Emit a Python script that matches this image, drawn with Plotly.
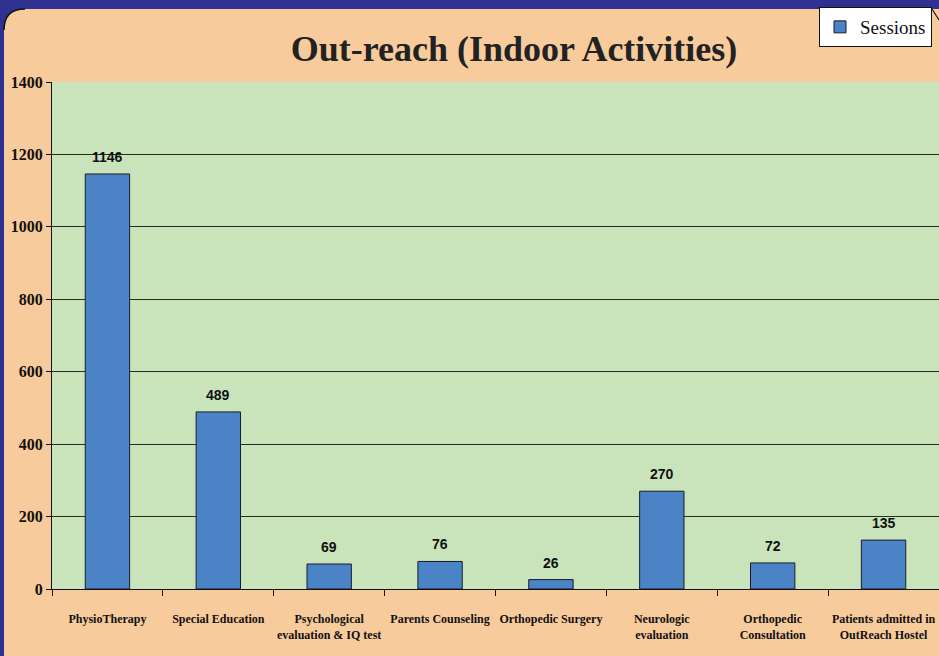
import plotly.graph_objects as go

categories = ["PhysioTherapy", "Special Education", "Psychological<br>evaluation &amp; IQ test",
              "Parents Counseling", "Orthopedic Surgery", "Neurologic<br>evaluation",
              "Orthopedic<br>Consultation", "Patients admitted in<br>OutReach Hostel"]
sessions = [1146, 489, 69, 76, 26, 270, 72, 135]
y_ticks = [0, 200, 400, 600, 800, 1000, 1200, 1400]

W, H = 939, 656
L, R, T, B = 52, 0, 82, 67
PW, PH = W - L - R, H - T - B

def px(x):
    return (x - L) / PW

def py(y):
    return (H - B - y) / PH

BLUE = "#2E3192"
PEACH = "#F8CB9C"
GREEN = "#C9E3BA"

fig = go.Figure()
fig.add_trace(go.Bar(
    x=categories, y=sessions, name="Sessions", width=0.4,
    marker=dict(color="#4A84C6", line=dict(color="#1b1b2b", width=1)),
))

for c, v in zip(categories, sessions):
    fig.add_annotation(x=c, y=v, text=str(v), showarrow=False, yshift=17,
                       font=dict(family="Liberation Sans Narrow, Liberation Sans, Arial",
                                 size=14, color="#111", weight="bold"))

# blue frame with rounded top-left corner of the peach panel
path = (f"M {px(0)},{py(0)} L {px(0)},{py(H)} L {px(4)},{py(H)} L {px(4)},{py(30)} "
        f"Q {px(4)},{py(9)} {px(25)},{py(9)} L {px(W)},{py(9)} L {px(W)},{py(0)} Z")
fig.add_shape(type="path", path=path, xref="paper", yref="paper",
              fillcolor=BLUE, line=dict(width=0), layer="below")
arc = f"M {px(4)},{py(30)} Q {px(4)},{py(9)} {px(25)},{py(9)}"
fig.add_shape(type="path", path=arc, xref="paper", yref="paper",
              line=dict(color="#111", width=1.5), layer="below")
fig.add_shape(type="line", xref="paper", yref="paper",
              x0=px(932), y0=py(9), x1=px(939), y1=py(20),
              line=dict(color="#111", width=1.2), layer="above")

fig.update_layout(
    width=W, height=H,
    margin=dict(l=L, r=R, t=T, b=B, pad=0, autoexpand=False),
    paper_bgcolor=PEACH, plot_bgcolor=GREEN,
    title=dict(text="Out-reach (Indoor Activities)", x=(514) / W, xanchor="center",
               y=1 - 48 / H, yanchor="middle",
               font=dict(family="Liberation Serif, Times New Roman", size=36,
                         color="#222", weight="bold")),
    showlegend=True,
    legend=dict(x=px(932), xanchor="right", y=py(7), yanchor="top",
                bgcolor="white", bordercolor="#111", borderwidth=1,
                font=dict(family="Liberation Serif, Times New Roman", size=19, color="#111"),
                itemwidth=30),
    bargap=0.6,
)

fig.update_xaxes(
    showline=True, linecolor="#111", linewidth=1, ticks="outside", ticklen=6,
    tickcolor="#111", tickson="boundaries", showgrid=False,
    range=[-0.5, 7.5], tickangle=0,
    tickfont=dict(family="Liberation Serif, Times New Roman", size=12, color="#111", weight="bold"),
    ticklabelstandoff=19,
)
fig.update_yaxes(
    range=[0, 1400], tickvals=y_ticks, ticktext=[str(t) for t in y_ticks],
    showline=True, linecolor="#111", linewidth=1, ticks="outside", ticklen=5,
    tickcolor="#111", showgrid=True, gridcolor="#2a2a2a", gridwidth=1,
    zeroline=False,
    tickfont=dict(family="Liberation Serif, Times New Roman", size=16, color="#111", weight="bold"),
)

fig.write_html("out.html", config={"displayModeBar": False},
               post_script="document.body.style.margin='0';document.body.style.padding='0';"
                           "document.body.style.background='" + BLUE + "';")
